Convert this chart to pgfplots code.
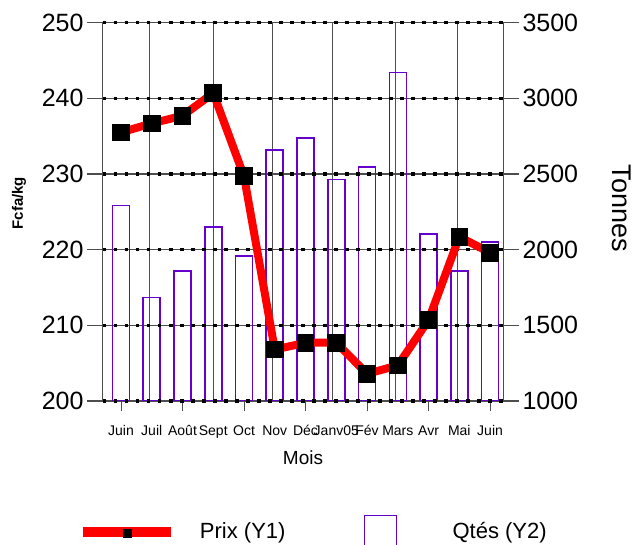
\documentclass[border=0pt]{standalone}
\usepackage{fontspec}
\setmainfont{Liberation Sans}
\usepackage{pgfplots}
\pgfplotsset{compat=1.18}
\definecolor{barpurple}{HTML}{6600CC}
\definecolor{gridgray}{HTML}{4D4D4D}
\begin{document}
\begin{tikzpicture}[x=1pt,y=1pt]
% ---------- axis 1: quantities (right axis), bars, x labels, vertical grid
\begin{axis}[
  at={(103pt,143pt)}, anchor=south west,
  scale only axis, width=400pt, height=378.3pt,
  xmin=-0.585, xmax=12.42,
  ymin=1000, ymax=3500,
  axis y line*=right,
  axis x line*=bottom,
  axis line style={gridgray, line width=1pt},
  tick align=outside,
  xtick={0,...,12},
  xticklabels={Juin,Juil,Août,Sept,Oct,Nov,Déc,Janv05,Fév,Mars,Avr,Mai,Juin},
  xticklabel style={font=\fontsize{14}{14}\selectfont, yshift=-5pt},
  xtick style={draw=none},
  extra x ticks={0,2,4,6,8,10,12},
  extra x tick labels={},
  extra x tick style={grid=none, xtick style={draw=gridgray, line width=0.8pt}, major tick length=10pt},
  minor xtick={0.943,3.0,4.94,6.89,8.94,10.93},
  xminorgrids=true,
  minor x grid style={gridgray, line width=1pt},
  minor tick length=0pt,
  ytick={1000,1500,2000,2500,3000,3500},
  ymajorgrids=true,
  major grid style={gridgray, line width=1.3pt},
  major tick length=16pt,
  ytick style={gridgray, line width=1.3pt},
  yticklabel style={font=\fontsize{25}{25}\selectfont},
  /pgf/number format/assume math mode=true,
  /pgf/number format/1000 sep={},
  ylabel={Tonnes},
  every axis y label/.style={at={(rel axis cs:1.2975,0.51)}, anchor=center, rotate=-90, font=\fontsize{27}{27}\selectfont},
  xlabel={Mois},
  every axis x label/.style={at={(rel axis cs:0.5,-0.1507)}, anchor=center, font=\fontsize{19}{19}\selectfont},
]
\addplot[ybar, bar width=17pt, bar shift=0pt, draw=barpurple, line width=1.6pt, fill=none]
  coordinates {(0,2291) (1,1685) (2,1859) (3,2148) (4,1958) (5,2659) (6,2738)
               (7,2465) (8,2546) (9,3170) (10,2102) (11,1859) (12,2049)};
\end{axis}
% ---------- axis 2: price (left axis), line
\begin{axis}[
  at={(103pt,143pt)}, anchor=south west,
  scale only axis, width=400pt, height=378.3pt,
  xmin=-0.585, xmax=12.42,
  ymin=200, ymax=250,
  axis y line*=left,
  axis x line=none,
  axis line style={gridgray, line width=1pt},
  tick align=outside,
  ytick={200,210,220,230,240,250},
  ymajorgrids=true,
  major grid style={black, line width=3.5pt, dash pattern=on 3.5pt off 7.5pt},
  major tick length=16pt,
  ytick style={gridgray, line width=1.3pt},
  yticklabel style={font=\fontsize{25}{25}\selectfont},
  /pgf/number format/assume math mode=true,
  ylabel={Fcfa/kg},
  every axis y label/.style={at={(rel axis cs:-0.21,0.523)}, anchor=center, rotate=90, font=\bfseries\fontsize{15}{15}\selectfont},
  clip=false,
  legend columns=-1,
  legend style={draw=none, fill=none, inner sep=0pt, outer sep=0pt,
    at={(rel axis cs:-0.0625,-0.345)}, anchor=west,
    nodes={inner sep=0pt, font=\fontsize{22}{22}\selectfont},
    column sep=0pt},
]
\addplot[red, line width=8pt, mark=square*, mark size=8.3pt,
  mark options={black, fill=black, line width=0pt, solid},
  legend image code/.code={
    \draw[red, line width=10pt] (0pt,0pt) -- (88pt,0pt);
    \fill[black, draw=none] (40.5pt,-6pt) rectangle (49.5pt,3pt);
    \path[draw=none, fill=none] (0pt,0pt) -- (117pt,0pt);
  }]
  coordinates {(0,235.5) (1,236.7) (2,237.7) (3,240.7) (4,229.7) (5,206.8) (6,207.7)
               (7,207.7) (8,203.6) (9,204.7) (10,210.7) (11,221.7) (12,219.6)};
\addlegendentry{Prix (Y1)}
\addlegendimage{legend image code/.code={
    \path[draw=none, fill=none] (0pt,0pt) -- (79pt,0pt);
    \draw[barpurple, line width=1.6pt, fill=none] (79pt,-16pt) rectangle (111pt,16pt);
    \path[draw=none, fill=none] (111pt,0pt) -- (167pt,0pt);
  }}
\addlegendentry{Qtés (Y2)}
\end{axis}
\pgfresetboundingbox
\useasboundingbox (0,0) rectangle (635,544);
\end{tikzpicture}
\end{document}
